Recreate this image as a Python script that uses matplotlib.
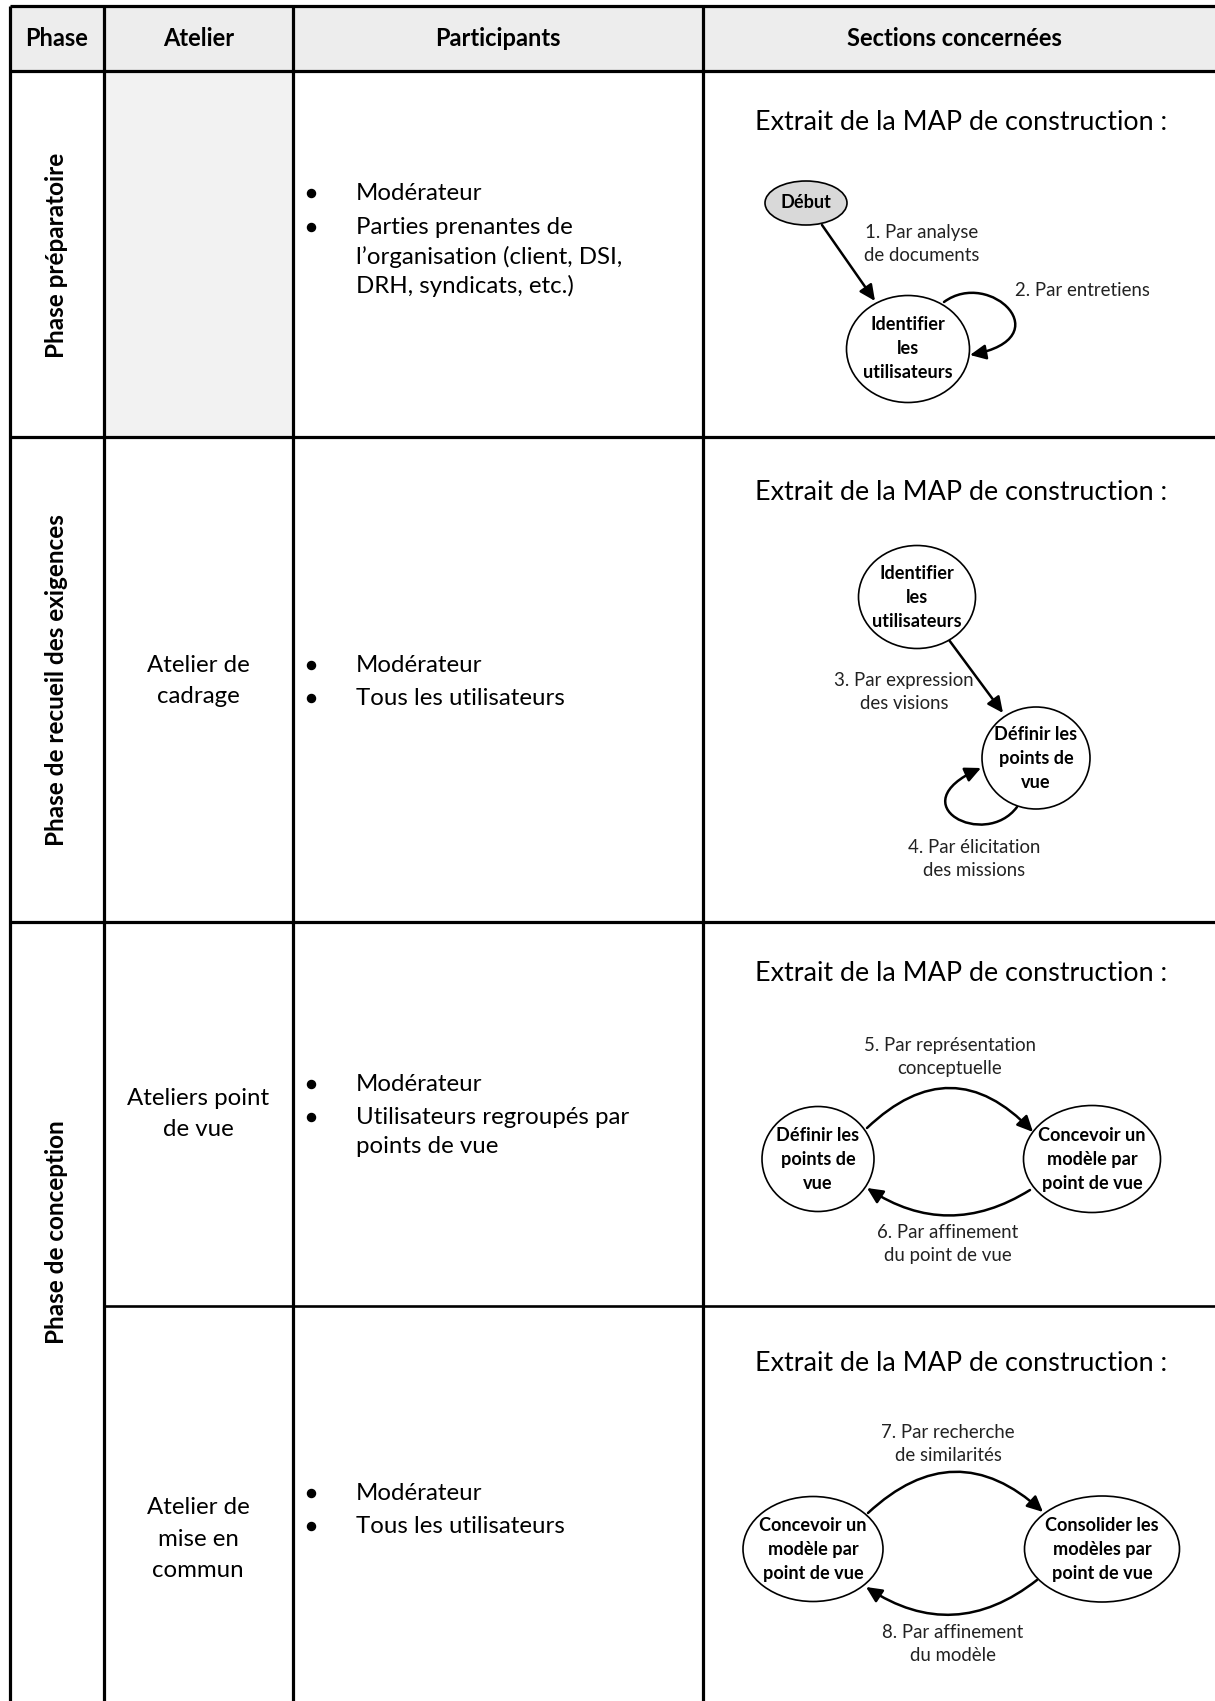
import matplotlib
matplotlib.use("Agg")
import matplotlib.pyplot as plt
from matplotlib.patches import Ellipse, Rectangle, FancyArrowPatch
from matplotlib.path import Path

FONT = ["Lato", "DejaVu Sans"]
plt.rcParams['font.family'] = FONT

# ---------------- data ----------------
headers = ["Phase", "Atelier", "Participants", "Sections concernées"]
phases = ["Phase préparatoire", "Phase de recueil des exigences", "Phase de conception"]
ateliers = ["", "Atelier de\ncadrage", "Ateliers point\nde vue", "Atelier de\nmise en\ncommun"]
participants = [
    [["Modérateur"], ["Parties prenantes de", "l’organisation (client, DSI,", "DRH, syndicats, etc.)"]],
    [["Modérateur"], ["Tous les utilisateurs"]],
    [["Modérateur"], ["Utilisateurs regroupés par", "points de vue"]],
    [["Modérateur"], ["Tous les utilisateurs"]],
]
section_title = "Extrait de la MAP de construction :"

node_labels = [
    ["Début", "Identifier\nles\nutilisateurs"],
    ["Identifier\nles\nutilisateurs", "Définir les\npoints de\nvue"],
    ["Définir les\npoints de\nvue", "Concevoir un\nmodèle par\npoint de vue"],
    ["Concevoir un\nmodèle par\npoint de vue", "Consolider les\nmodèles par\npoint de vue"],
]
edge_labels = [
    ["1. Par analyse\nde documents", "2. Par entretiens"],
    ["3. Par expression\ndes visions", "4. Par élicitation\ndes missions"],
    ["5. Par représentation\nconceptuelle", "6. Par affinement\ndu point de vue"],
    ["7. Par recherche\nde similarités", "8. Par affinement\ndu modèle"],
]

# ---------------- figure ----------------
W, H = 1215, 1701
fig = plt.figure(figsize=(W / 100, H / 100), dpi=100)
ax = fig.add_axes([0, 0, 1, 1])
ax.set_xlim(0, W)
ax.set_ylim(H, 0)
ax.axis("off")

# layout (pixels)
xL, x1, x2, x3, xR = 10, 104, 293, 703, 1216
yT, yH = 6, 71
row_b = [437, 922, 1306, 1702]
LW = 2.3
BODY_FS = 17.3

# fills
ax.add_patch(Rectangle((xL, yT), xR - xL, yH - yT, facecolor="#EDEDED", edgecolor="none", zorder=0))
ax.add_patch(Rectangle((x1, yH), x2 - x1, row_b[0] - yH, facecolor="#F2F2F2", edgecolor="none", zorder=0))

# grid lines
for x in [xL, x1, x2, x3]:
    ax.plot([x, x], [yT, H + 2], color="black", lw=LW, solid_capstyle="butt", zorder=3)
for y in [yT, yH, row_b[0], row_b[1]]:
    ax.plot([xL, xR], [y, y], color="black", lw=LW, solid_capstyle="butt", zorder=3)
ax.plot([x1, xR], [row_b[2], row_b[2]], color="black", lw=1.9, solid_capstyle="butt", zorder=3)

# header texts
hx = [(xL + x1) / 2, (x1 + x2) / 2, (x2 + x3) / 2, 954]
for t, x in zip(headers, hx):
    ax.text(x, 39, t, ha="center", va="center", fontsize=17, fontweight="bold")

# phase labels (rotated)
phase_y = [255, 680, 1232]
for i, (t, y) in enumerate(zip(phases, phase_y)):
    if i < 2:
        ax.text(57, y, t, ha="center", va="center", rotation=90, fontsize=17.5, fontweight="bold")
    else:
        ax.text(57, y, t, ha="center", va="center", rotation=90, fontsize=17.5,
                fontweight="bold", family=["Liberation Sans Narrow", "Lato", "DejaVu Sans"])

# atelier texts
atelier_y = [254, 681, 1114, 1539]
for t, y in zip(ateliers, atelier_y):
    if t:
        ax.text(198, y, t, ha="center", va="center", fontsize=BODY_FS, linespacing=1.62)

# participants (first-line y of each bullet item; wrapped lines follow)
part_y = [[193, 227], [665, 698], [1084, 1117], [1493, 1526]]
for items, ys in zip(participants, part_y):
    for lines, y in zip(items, ys):
        ax.plot(311, y, marker="o", ms=5.8, color="black", zorder=4)
        for k, ln in enumerate(lines):
            ax.text(356, y + 29.5 * k, ln, ha="left", va="center", fontsize=BODY_FS)

# section titles
title_y = [123, 492, 973, 1363]
for y in title_y:
    ax.text(755, y, section_title, ha="left", va="center", fontsize=19.4)

NODE_FS = 13.1
EDGE_FS = 13.4


def node(cx, cy, w, h, label, fc="white"):
    ax.add_patch(Ellipse((cx, cy), w, h, facecolor=fc, edgecolor="black", lw=1.2, zorder=5))
    ax.text(cx, cy, label, ha="center", va="center", fontsize=NODE_FS, fontweight="bold",
            linespacing=1.5, zorder=6)


ASTYLE = "-|>,head_length=0.95,head_width=0.45"


def arrow(p0, p1, rad=0.0):
    a = FancyArrowPatch(p0, p1, arrowstyle=ASTYLE, mutation_scale=10,
                        connectionstyle=f"arc3,rad={rad}", lw=1.8, color="black",
                        shrinkA=0, shrinkB=0, zorder=4)
    ax.add_patch(a)


def loop(pts):
    codes = [Path.MOVETO] + [Path.CURVE4] * (len(pts) - 1)
    a = FancyArrowPatch(path=Path(pts, codes), arrowstyle=ASTYLE, mutation_scale=10,
                        lw=1.8, color="black", zorder=4)
    ax.add_patch(a)


def elabel(x, y, t, ha="center"):
    ax.text(x, y, t, ha=ha, va="center", fontsize=EDGE_FS, linespacing=1.42, color="#222222")


# ---- diagram 1 ----
node(806, 203, 82, 44, node_labels[0][0], fc="#D9D9D9")
node(908, 349, 123, 107, node_labels[0][1])
arrow((822, 225), (875, 301))
elabel(922, 244, edge_labels[0][0])
loop([(944, 302), (990, 268), (1062, 338), (970, 355)])
elabel(1015, 291, edge_labels[0][1], ha="left")

# ---- diagram 2 ----
node(917, 597, 117, 103, node_labels[1][0])
node(1036, 758, 108, 102, node_labels[1][1])
arrow((949, 640), (1003, 713))
elabel(904, 692, edge_labels[1][0])
loop([(1017, 807), (985, 850), (898, 805), (981, 768)])
elabel(974, 859, edge_labels[1][1])

# ---- diagram 3 ----
node(818, 1159, 112, 105, node_labels[2][0])
node(1092, 1159, 137, 107, node_labels[2][1])
arrow((867, 1128), (1033, 1132), rad=-0.5)
arrow((1030, 1190), (867, 1188), rad=-0.32)
elabel(950, 1057, edge_labels[2][0])
elabel(948, 1244, edge_labels[2][1])

# ---- diagram 4 ----
node(813, 1549, 140, 105, node_labels[3][0])
node(1102, 1549, 155, 106, node_labels[3][1])
arrow((868, 1513), (1043, 1512), rad=-0.46)
arrow((1037, 1580), (866, 1587), rad=-0.36)
elabel(948, 1444, edge_labels[3][0])
elabel(953, 1644, edge_labels[3][1])

fig.savefig("out.png", dpi=100)
